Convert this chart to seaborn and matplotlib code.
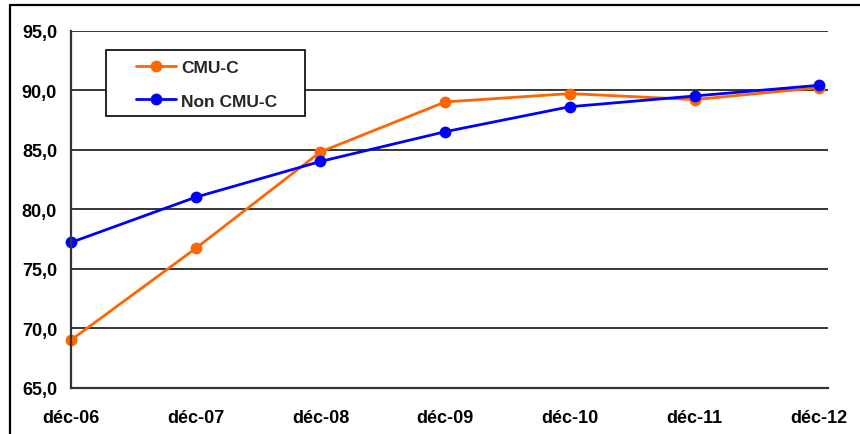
import matplotlib
matplotlib.use("Agg")
import matplotlib.pyplot as plt
from matplotlib.patches import Rectangle
from matplotlib.lines import Line2D
from matplotlib.ticker import FuncFormatter, MultipleLocator
import pandas as pd
import seaborn as sns

# Series values
periods = ["déc-06", "déc-07", "déc-08", "déc-09", "déc-10", "déc-11", "déc-12"]
cmu_c = [69.0, 76.7, 84.8, 89.0, 89.7, 89.2, 90.2]
non_cmu_c = [77.2, 81.0, 84.0, 86.5, 88.6, 89.5, 90.4]
series_names = ["CMU-C", "Non CMU-C"]
colors = {"CMU-C": "#FF6600", "Non CMU-C": "#0000FF"}

df = pd.DataFrame({
    "x": list(range(len(periods))) * 2,
    "periode": periods * 2,
    "valeur": cmu_c + non_cmu_c,
    "groupe": [series_names[0]] * len(periods) + [series_names[1]] * len(periods),
})

sns.set_theme(style="white")
plt.rcParams["font.family"] = ["Liberation Sans", "DejaVu Sans"]
plt.rcParams["font.weight"] = "bold"

W, H = 860, 435
fig = plt.figure(figsize=(W / 100, H / 100), dpi=100)
fig.patch.set_facecolor("white")

# Outer frame (top and left edges visible)
fig.add_artist(Line2D([10 / W, 10 / W], [0, 1 - 6 / H], transform=fig.transFigure,
                      color="black", lw=1.6))
fig.add_artist(Line2D([10 / W, 1], [1 - 6 / H, 1 - 6 / H], transform=fig.transFigure,
                      color="black", lw=1.6))

ax_l, ax_r, ax_t, ax_b = 71, 828, 31.5, 388.7
ax = fig.add_axes([ax_l / W, 1 - ax_b / H, (ax_r - ax_l) / W, (ax_b - ax_t) / H])

MS, LW = 8.5, 2.0
sns.lineplot(data=df, x="x", y="valeur", hue="groupe", palette=colors,
             marker="o", markersize=MS, markeredgewidth=0, linewidth=LW,
             legend=False, ax=ax, zorder=3)
for ln in ax.lines:
    ln.set_clip_on(False)

ax.set_xlim(0, 6.07)
ax.set_ylim(65, 95)
ax.yaxis.set_major_locator(MultipleLocator(5))
ax.yaxis.set_major_formatter(FuncFormatter(lambda v, p: f"{v:.1f}".replace(".", ",")))
ax.set_xticks(range(len(periods)))
ax.set_xticklabels(periods)
ax.set_xlabel("")
ax.set_ylabel("")

ax.grid(axis="y", color="black", linewidth=1.1, zorder=0)
ax.grid(axis="x", visible=False)
for s in ["top", "right"]:
    ax.spines[s].set_visible(False)
for s in ["left", "bottom"]:
    ax.spines[s].set_color("#333333")
    ax.spines[s].set_linewidth(1.6)
    ax.spines[s].set_zorder(4)

ax.tick_params(axis="both", direction="out", length=5, width=1.4, color="#333333",
               labelsize=13, labelcolor="black")
ax.tick_params(axis="x", pad=10)
ax.tick_params(axis="y", pad=5)
for lab in ax.get_xticklabels() + ax.get_yticklabels():
    lab.set_fontweight("bold")

# Legend box
bx0, by0, bx1, by1 = 106, 51, 305, 117
fig.add_artist(Rectangle((bx0 / W, 1 - by1 / H), (bx1 - bx0) / W, (by1 - by0) / H,
                         transform=fig.transFigure, facecolor="white",
                         edgecolor="black", lw=1.2, zorder=5))
handles = [Line2D([], [], color=colors[n], marker="o", markersize=MS,
                  markeredgewidth=0, lw=LW) for n in series_names]
leg = fig.legend(handles, series_names, loc="upper left",
                 bbox_to_anchor=(136 / W, 1 - 61 / H), frameon=False,
                 handlelength=2.3, handletextpad=0.3, labelspacing=1.05,
                 borderpad=0, borderaxespad=0,
                 prop={"weight": "bold", "size": 12.5})
leg.set_zorder(6)

fig.savefig("out.png", dpi=100, facecolor="white")
